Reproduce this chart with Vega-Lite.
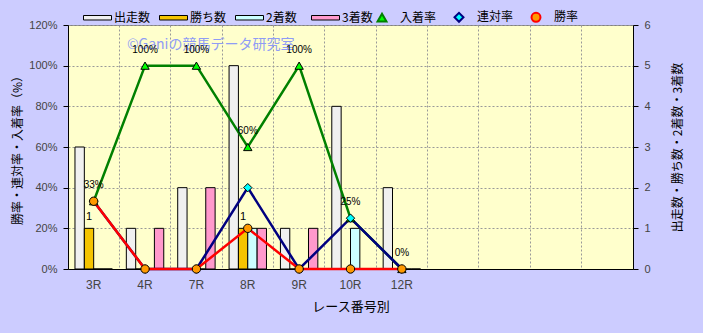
{
  "$schema": "https://vega.github.io/schema/vega-lite/v6.json",
  "autosize": "none",
  "width": 565,
  "height": 244,
  "padding": {"left": 68, "top": 25, "right": 70, "bottom": 64},
  "background": "#ccccff",
  "config": {
    "view": {"fill": "#ffffcc", "stroke": "#808080"},
    "font": "Liberation Sans, Noto Sans CJK JP",
    "axis": {"labelFont": "Liberation Sans, Noto Sans CJK JP", "titleFont": "Noto Sans CJK JP, Liberation Sans", "labelColor": "#444444", "titleColor": "#000000", "labelFontSize": 11, "domainColor": "#000000", "tickColor": "#000000"},
    "legend": {"labelFont": "Noto Sans CJK JP, Liberation Sans", "labelFontSize": 12, "labelColor": "#000000"}
  },
  "data": {"values": [
    {"race": "3R", "出走数": 3, "勝ち数": 1, "2着数": 0, "3着数": 0, "入着率": 0.3333, "連対率": 0.3333, "勝率": 0.3333},
    {"race": "4R", "出走数": 1, "勝ち数": 0, "2着数": 0, "3着数": 1, "入着率": 1.0, "連対率": 0, "勝率": 0},
    {"race": "7R", "出走数": 2, "勝ち数": 0, "2着数": 0, "3着数": 2, "入着率": 1.0, "連対率": 0, "勝率": 0},
    {"race": "8R", "出走数": 5, "勝ち数": 1, "2着数": 1, "3着数": 1, "入着率": 0.6, "連対率": 0.4, "勝率": 0.2},
    {"race": "9R", "出走数": 1, "勝ち数": 0, "2着数": 0, "3着数": 1, "入着率": 1.0, "連対率": 0, "勝率": 0},
    {"race": "10R", "出走数": 4, "勝ち数": 0, "2着数": 1, "3着数": 0, "入着率": 0.25, "連対率": 0.25, "勝率": 0},
    {"race": "12R", "出走数": 2, "勝ち数": 0, "2着数": 0, "3着数": 0, "入着率": 0, "連対率": 0, "勝率": 0}
  ]},
  "encoding": {
    "x": {
      "field": "race", "type": "nominal",
      "scale": {"domain": ["3R", "4R", "7R", "8R", "9R", "10R", "12R", " ", "  ", "   ", "    "], "paddingInner": 0, "paddingOuter": 0},
      "axis": {"title": "レース番号別", "titleFontSize": 13, "titleFontWeight": "normal", "titlePadding": 10, "labelAngle": 0, "labelPadding": 10, "labelFontSize": 12, "ticks": false, "bandPosition": 0, "grid": true, "gridColor": "#999999", "gridDash": [2, 2], "domainColor": "#000000"}
    }
  },
  "layer": [
    {
      "transform": [{"fold": ["出走数", "勝ち数", "2着数", "3着数"], "as": ["series", "count"]}],
      "encoding": {
        "y": {"field": "count", "type": "quantitative", "scale": {"domain": [0, 6]},
          "axis": {"orient": "right", "title": "出走数・勝ち数・2着数・3着数", "titleAngle": -90, "titleFontSize": 12, "titleFontWeight": "normal", "titlePadding": 34, "tickCount": 6, "grid": false, "tickSize": 5, "labelPadding": 6}},
        "xOffset": {"field": "series", "type": "nominal", "scale": {"domain": ["出走数", "勝ち数", "2着数", "3着数"], "paddingInner": 0, "paddingOuter": 0.746}}
      },
      "layer": [
        {
          "mark": {"type": "bar", "stroke": "#000000", "strokeWidth": 1},
          "encoding": {
            "color": {
              "field": "series", "type": "nominal",
              "scale": {"domain": ["出走数", "勝ち数", "2着数", "3着数"], "range": ["#f0f0f0", "#f5c400", "#ccffff", "#ff99cc"]},
              "legend": {
                "orient": "none", "legendX": 15, "legendY": -22, "direction": "horizontal", "title": null, "columns": 4, "gridAlign": "all",
                "symbolType": "M-1,-0.16H1V0.16H-1Z", "symbolSize": 784, "labelOffset": 2, "columnPadding": 6, "symbolStrokeWidth": 1, "symbolStrokeColor": "#000000"
              }
            }
          }
        },
        {
          "transform": [{"filter": "datum.series == '勝ち数' && datum.count > 0"}],
          "mark": {"type": "text", "dy": -11, "fontSize": 11, "color": "#000000", "font": "Liberation Sans"},
          "encoding": {"text": {"field": "count", "type": "quantitative"}}
        }
      ]
    },
    {
      "transform": [{"fold": ["入着率", "連対率", "勝率"], "as": ["series", "rate"]}],
      "encoding": {
        "y": {"field": "rate", "type": "quantitative", "scale": {"domain": [0, 1.2]},
          "axis": {"orient": "left", "title": "勝率・連対率・入着率（%）", "titleFontSize": 12, "titleFontWeight": "normal", "titlePadding": 4, "format": ".0%", "values": [0, 0.2, 0.4, 0.6, 0.8, 1.0, 1.2], "grid": true, "gridColor": "#999999", "gridDash": [2, 2], "tickSize": 5, "labelPadding": 6}}
      },
      "layer": [
        {
          "mark": {"type": "line", "strokeWidth": 2.5},
          "encoding": {
            "stroke": {"field": "series", "type": "nominal",
              "scale": {"domain": ["入着率", "連対率", "勝率"], "range": ["#008000", "#000080", "#ff0000"]},
              "legend": {
                "orient": "none", "legendX": 308, "legendY": -14, "direction": "horizontal", "title": null, "columns": 3, "gridAlign": "all",
                "symbolType": "circle", "symbolSize": 80, "labelOffset": 12, "columnPadding": 13, "symbolStrokeWidth": 2
              }
            }
          }
        },
        {
          "mark": {"type": "point", "filled": true, "stroke": "#000000", "strokeWidth": 1, "opacity": 1, "size": 70},
          "encoding": {
            "shape": {"field": "series", "type": "nominal", "scale": {"domain": ["入着率", "連対率", "勝率"], "range": ["triangle-up", "diamond", "circle"]}},
            "fill": {"field": "series", "type": "nominal", "scale": {"domain": ["入着率", "連対率", "勝率"], "range": ["#00ff00", "#00ffff", "#ff9900"]}}
          }
        },
        {
          "transform": [{"filter": "datum.series == '入着率' && datum.race == '3R'"}],
          "mark": {"type": "text", "text": "©Ganiの競馬データ研究室", "fontSize": 14, "color": "#8f9cf5", "font": "Noto Sans CJK JP", "dx": 117},
          "encoding": {"y": {"datum": 1.1}}
        },
        {
          "transform": [{"filter": "datum.series == '入着率'"}],
          "mark": {"type": "text", "dy": -16, "fontSize": 10, "color": "#000000", "font": "Liberation Sans"},
          "encoding": {"text": {"field": "rate", "type": "quantitative", "format": ".0%"}}
        }
      ]
    }
  ],
  "resolve": {"scale": {"y": "independent"}}
}
